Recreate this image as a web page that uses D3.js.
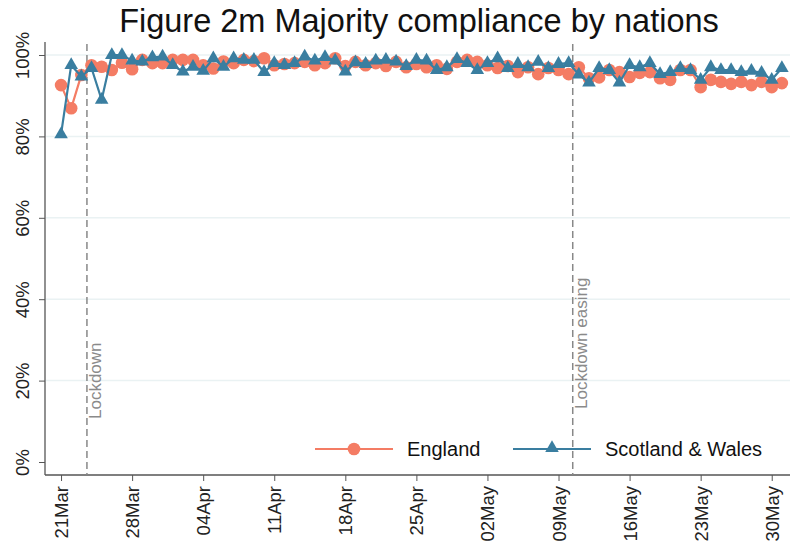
<!DOCTYPE html>
<html>
<head>
<meta charset="utf-8">
<title>Figure 2m Majority compliance by nations</title>
<style>
  body {margin: 0; background: white;}
  svg text {font-family: "Liberation Sans", Arial, sans-serif;}
</style>
</head>
<body>
<svg id="chart" width="794" height="554"></svg>
<script src="https://cdn.jsdelivr.net/npm/d3@7"></script>
<script>
// daily values, 21 Mar - 31 May 2020 (percent)
var england = [92.6, 86.9, 95.1, 97.5, 97.1, 96.3, 98.1, 96.5, 98.8, 98, 98,
  98.8, 98.8, 98.8, 97.5, 96.7, 98.4, 98, 98.8, 98.5, 99.2, 97.5, 97.8, 98, 98.3, 97.5,
  98, 99.2, 97.3, 98.3, 97.5, 98, 97.3, 98.3, 97, 97.8, 97, 97.5, 96.6, 98.3, 98.8,
  98.3, 97.5, 96.8, 97.3, 95.8, 97, 95.3, 96.8, 96.3, 95.3, 97, 94.3, 94.5, 96.3, 95.8,
  94.6, 95.6, 95.8, 94.3, 93.9, 96.3, 96.3, 92.1, 93.9, 93.4, 92.9, 93.4, 92.6, 93.4, 92.1, 93.1];
var scotWales = [80.5, 97.5, 94.7, 96.8, 89, 100, 100, 98.6, 98.4, 99.4, 99.6,
  97.5, 95.9, 97.1, 96.1, 99.2, 97.1, 99.2, 98.8, 98.8, 95.8, 98, 97.5, 98, 99.6, 98.6,
  99.5, 98.6, 95.9, 98.2, 97.8, 98.6, 98.8, 98.4, 97.3, 98.8, 98.6, 96.3, 97, 99, 98,
  96.3, 98, 99.2, 96.8, 97.8, 97, 98.3, 96.8, 97.8, 98, 95.2, 93.2, 96.8, 96.3, 93.2,
  97.5, 97, 98, 95.3, 95.8, 96.8, 96.3, 93.9, 97, 96.3, 96.3, 95.8, 96.1, 95.6, 93.9, 96.8];
var tickLabels = ["21Mar", "28Mar", "04Apr", "11Apr", "18Apr", "25Apr", "02May", "09May", "16May", "23May", "30May"];
var yTicks = [0, 20, 40, 60, 80, 100];
var events = [{label: "Lockdown", day: 2.55, base: 419}, {label: "Lockdown easing", day: 50.4, base: 409}];
var seriesNames = ["England", "Scotland & Wales"];

var DAY = 86400000;
var start = Date.UTC(2020, 2, 21);
function dayDate(i) { return new Date(start + i * DAY); }

var colEng = "#f47c64", colSW = "#3a7ea0";
var svg = d3.select("#chart");

var x = d3.scaleUtc()
  .domain([dayDate(-1.58), dayDate(71.8)])
  .range([45, 790]);
var y = d3.scaleLinear().domain([0, 100]).range([462, 55]);

// title
svg.append("text")
  .attr("x", 419).attr("y", 32)
  .attr("text-anchor", "middle")
  .attr("font-size", 32.5)
  .attr("fill", "#111")
  .text("Figure 2m Majority compliance by nations");

// gridlines
svg.append("g").selectAll("line")
  .data(yTicks.filter(function(d){return d > 0;}))
  .enter().append("line")
  .attr("x1", 46).attr("x2", 790)
  .attr("y1", function(d){return y(d);}).attr("y2", function(d){return y(d);})
  .attr("stroke", "#eaf2f3").attr("stroke-width", 1.5);

// y axis
var yAxis = svg.append("g")
  .attr("transform", "translate(45,0)")
  .call(d3.axisLeft(y).tickValues(yTicks).tickSize(6).tickFormat(function(d){return d + "%";}));
yAxis.select(".domain").attr("d", "M0,42V475").attr("stroke", "#555").attr("stroke-width", 1.3);
yAxis.selectAll(".tick line").attr("stroke", "#555");
yAxis.selectAll(".tick text")
  .attr("font-size", 18.5).attr("fill", "#222")
  .attr("transform", "rotate(-90)")
  .attr("x", 0).attr("y", -16).attr("dy", 0)
  .attr("text-anchor", "middle");

// x axis
var tickDates = tickLabels.map(function(d, i){return dayDate(i * 7);});
var xAxis = svg.append("g")
  .attr("transform", "translate(0,475)")
  .call(d3.axisBottom(x).tickValues(tickDates).tickSize(6)
    .tickFormat(function(d, i){return tickLabels[i];}));
xAxis.select(".domain").attr("d", "M45,0H790").attr("stroke", "#555").attr("stroke-width", 1.3);
xAxis.selectAll(".tick line").attr("stroke", "#555");
xAxis.selectAll(".tick text")
  .attr("font-size", 18.5).attr("fill", "#222")
  .attr("transform", "rotate(-90)")
  .attr("x", -11).attr("y", 0).attr("dy", "0.35em")
  .attr("text-anchor", "end");

// event lines
var ev = svg.append("g").selectAll("g").data(events).enter().append("g");
ev.append("line")
  .attr("x1", function(d){return x(dayDate(d.day));})
  .attr("x2", function(d){return x(dayDate(d.day));})
  .attr("y1", 44).attr("y2", 475)
  .attr("stroke", "#888").attr("stroke-width", 1.5)
  .attr("stroke-dasharray", "7,4");
ev.append("text")
  .attr("transform", function(d){
    return "translate(" + (x(dayDate(d.day)) + 14) + "," + d.base + ") rotate(-90)";
  })
  .attr("font-size", 17).attr("fill", "#8a8a8a")
  .text(function(d){return d.label;});

// series
var line = d3.line()
  .x(function(d, i){return x(dayDate(i));})
  .y(function(d){return y(d);});

svg.append("path").datum(england)
  .attr("d", line).attr("fill", "none")
  .attr("stroke", colEng).attr("stroke-width", 2.2);
svg.append("g").selectAll("circle").data(england).enter().append("circle")
  .attr("cx", function(d, i){return x(dayDate(i));})
  .attr("cy", function(d){return y(d);})
  .attr("r", 6.3).attr("fill", colEng);

svg.append("path").datum(scotWales)
  .attr("d", line).attr("fill", "none")
  .attr("stroke", colSW).attr("stroke-width", 2.2);
var tri = d3.symbol().type(d3.symbolTriangle).size(80);
svg.append("g").selectAll("path").data(scotWales).enter().append("path")
  .attr("d", tri)
  .attr("transform", function(d, i){return "translate(" + x(dayDate(i)) + "," + y(d) + ")";})
  .attr("fill", colSW);

// legend
var legend = svg.append("g");
var items = [
  {name: seriesNames[0], x: 315, color: colEng, shape: "circle"},
  {name: seriesNames[1], x: 513, color: colSW, shape: "triangle"}
];
items.forEach(function(it){
  legend.append("line")
    .attr("x1", it.x).attr("x2", it.x + 78)
    .attr("y1", 449).attr("y2", 449)
    .attr("stroke", it.color).attr("stroke-width", 2.2);
  if (it.shape === "circle") {
    legend.append("circle").attr("cx", it.x + 39).attr("cy", 449).attr("r", 6.3).attr("fill", it.color);
  } else {
    legend.append("path").attr("d", tri)
      .attr("transform", "translate(" + (it.x + 39) + ",448)").attr("fill", it.color);
  }
  legend.append("text")
    .attr("x", it.x + 92).attr("y", 456)
    .attr("font-size", 20).attr("fill", "#111")
    .text(it.name);
});
</script>
</body>
</html>
